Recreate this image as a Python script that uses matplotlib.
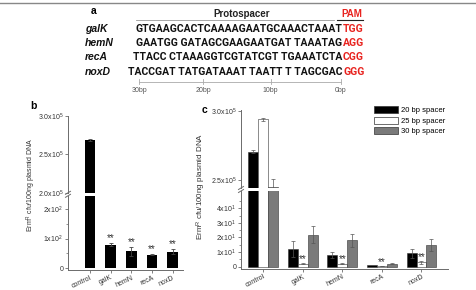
import matplotlib

matplotlib.use("Agg")

import matplotlib.pyplot as plt
from matplotlib.lines import Line2D
from matplotlib.patches import Patch

W, H = 476, 290

GENES = ["galK", "hemN", "recA", "noxD"]
SEQS = [
    "GTGAAGCACTCAAAAGAATGCAAACTAAAT",
    "GAATGG GATAGCGAAGAATGAT TAAATAG",
    "TTACC CTAAAGGTCGTATCGT TGAAATCTA",
    "TACCGAT TATGATAAAT TAATT T TAGCGAC",
]
PAMS = ["TGG", "AGG", "CGG", "GGG"]
RULER = ["30bp", "20bp", "10bp", "0bp"]

CATS = ["control", "galK", "hemN", "recA", "noxD"]
B_VALUES = [2.69e5, 79, 57, 46, 56]
B_ERRORS = [0.012e5, 5, 14, 2, 9]
B_STARS = [False, True, True, True, True]

SPACERS = ["20 bp spacer", "25 bp spacer", "30 bp spacer"]
C_VALUES = [
    [2.705e5, 12, 8, 1.0, 9],
    [2.94e5, 2, 2, 0.4, 3],
    [2.447e5, 22, 18, 2, 15],
]
C_ERRORS = [
    [0.01e5, 5.5, 2, 0.2, 3],
    [0.012e5, 0.4, 0.4, 0.1, 1],
    [0.058e5, 6, 4.5, 0.2, 4],
]
C_STARS = [False, True, True, True, True]

BAR_FILL = ["#000000", "#ffffff", "#7a7a7a"]
SPINE = "#6b6b6b"
TEXT = "#333333"

plt.rcParams["font.family"] = ["Liberation Sans", "DejaVu Sans"]
plt.rcParams["mathtext.default"] = "regular"


def fx(x):
    return x / W


def fy(y):
    return 1 - y / H


def box(x0, y_top, x1, y_bottom):
    return [fx(x0), fy(y_bottom), (x1 - x0) / W, (y_bottom - y_top) / H]


def style(ax, bottom=True):
    for side in ("top", "right"):
        ax.spines[side].set_visible(False)
    ax.spines["left"].set_color(SPINE)
    ax.spines["left"].set_linewidth(0.7)
    if bottom:
        ax.spines["bottom"].set_color(SPINE)
        ax.spines["bottom"].set_linewidth(0.7)
    else:
        ax.spines["bottom"].set_visible(False)
    ax.tick_params(colors=SPINE, labelcolor=TEXT, labelsize=5, width=0.6,
                   length=2, pad=1.5)
    ax.patch.set_alpha(0)


def sci(v, exp):
    return rf"{v}x10$^{{{exp}}}$"


def break_marks(fig, x, y):
    for dy in (-1.5, 1.5):
        fig.add_artist(Line2D([fx(x - 2.5), fx(x + 2.5)],
                              [fy(y + dy + 1.5), fy(y + dy - 1.5)],
                              color=SPINE, lw=0.7))


fig = plt.figure(figsize=(W / 100, H / 100), dpi=100)
fig.add_artist(Line2D([0, 1], [fy(2.5), fy(2.5)], color="#888888", lw=1))

# panel a
fig.text(fx(91), fy(11), "a", fontsize=7.5, fontweight="bold", ha="left", va="center")
fig.text(fx(242), fy(14), "Protospacer", fontsize=7, fontweight="bold",
         ha="center", va="center", color="#222222")
fig.add_artist(Line2D([fx(136), fx(334)], [fy(19.5), fy(19.5)], color="#999999", lw=0.6))
fig.text(fx(352), fy(14), "PAM", fontsize=7, fontweight="bold",
         ha="center", va="center", color="#e8231f")
fig.add_artist(Line2D([fx(337), fx(363)], [fy(20), fy(20)], color="#222222", lw=0.8))
for i, (gene, seq, pam) in enumerate(zip(GENES, SEQS, PAMS)):
    y = 29 + i * 14.2
    fig.text(fx(85), fy(y), gene, fontsize=7.5, fontweight="bold", style="italic",
             ha="left", va="center", color="#111111")
    fig.text(fx(342.5), fy(y), seq, fontsize=7.5, fontweight="bold",
             family="Roboto", ha="right", va="center", color="#111111")
    fig.text(fx(343), fy(y), pam, fontsize=7.5, fontweight="bold",
             family="Roboto", ha="left", va="center", color="#e8231f")
ruler_x = [139.3, 203.3, 270.7, 341]
fig.add_artist(Line2D([fx(ruler_x[0]), fx(ruler_x[-1])], [fy(81.5), fy(81.5)],
                      color="#aaaaaa", lw=0.6))
for x, lab in zip(ruler_x, RULER):
    fig.add_artist(Line2D([fx(x), fx(x)], [fy(78.5), fy(83.5)], color="#aaaaaa", lw=0.6))
    fig.text(fx(x), fy(90), lab, fontsize=5, ha="center", va="center", color="#555555")

# panel b
xb = list(range(len(CATS)))
bx_lo = fig.add_axes(box(68, 196, 183, 270))
bx_hi = fig.add_axes(box(68, 116, 183, 192.7))
for ax in (bx_lo, bx_hi):
    ax.bar(xb, B_VALUES, width=0.52, color="black", yerr=B_ERRORS,
           error_kw={"elinewidth": 0.6, "capsize": 1.5, "capthick": 0.6, "ecolor": "#444444"})
    ax.set_xlim(-1.07, 4.5)
bx_lo.set_ylim(-5.7, 243)
bx_hi.set_ylim(2.0e5, 3.0e5)
style(bx_lo)
style(bx_hi, bottom=False)
bx_lo.set_yticks([0, 100, 200], ["0", sci(1, 2), sci(2, 2)])
bx_lo.set_yticks([50, 150], minor=True)
bx_lo.tick_params(which="minor", length=1.2, width=0.5, colors=SPINE)
bx_hi.set_yticks([2.0e5, 2.5e5, 3.0e5], [sci("2.0", 5), sci("2.5", 5), sci("3.0", 5)])
bx_hi.set_xticks([])
bx_lo.set_xticks(xb, CATS, rotation=25, ha="right", rotation_mode="anchor")
bx_lo.tick_params(axis="x", labelsize=5, pad=1)
for x, v, e, s in zip(xb, B_VALUES, B_ERRORS, B_STARS):
    if s:
        bx_lo.annotate("**", (x, v + e), xytext=(0, 0), textcoords="offset points",
                       ha="center", va="bottom", fontsize=7, color=TEXT)
break_marks(fig, 68, 194.3)
fig.text(fx(30), fy(106), "b", fontsize=7.5, fontweight="bold", ha="left", va="center")
fig.text(fx(31), fy(185), r"Erm$^{R}$ cfu/100ng plasmid DNA", rotation=90,
         fontsize=5, ha="center", va="center", color=TEXT)

# panel c
width = 0.25
cx_lo = fig.add_axes(box(241, 191, 448, 269))
cx_hi = fig.add_axes(box(241, 110, 448, 188.3))
for ax in (cx_lo, cx_hi):
    for k in range(len(SPACERS)):
        xs = [i + (k - 1) * width for i in range(len(CATS))]
        ax.bar(xs, C_VALUES[k], width=width, color=BAR_FILL[k], edgecolor="#333333",
               linewidth=0.4, yerr=C_ERRORS[k], label=SPACERS[k],
               error_kw={"elinewidth": 0.5, "capsize": 1.5, "capthick": 0.5,
                         "ecolor": "#555555"})
    ax.set_xlim(-0.56, 4.67)
cx_lo.set_ylim(-1.7, 52)
cx_hi.set_ylim(2.44e5, 3.007e5)
style(cx_lo)
style(cx_hi, bottom=False)
cx_lo.set_yticks([0, 10, 20, 30, 40], ["0"] + [sci(n, 1) for n in (1, 2, 3, 4)])
cx_lo.set_yticks([5, 15, 25, 35, 45], minor=True)
cx_lo.tick_params(which="minor", length=1.2, width=0.5, colors=SPINE)
cx_hi.set_yticks([2.5e5, 3.0e5], [sci("2.5", 5), sci("3.0", 5)])
cx_hi.set_xticks([])
cx_lo.set_xticks(range(len(CATS)), CATS, rotation=27, ha="right", rotation_mode="anchor")
cx_lo.tick_params(axis="x", labelsize=5, pad=1)
for i, s in enumerate(C_STARS):
    if s:
        cx_lo.annotate("**", (i, C_VALUES[1][i] + C_ERRORS[1][i]), xytext=(0, -1),
                       textcoords="offset points", ha="center", va="bottom",
                       fontsize=7, color=TEXT)
break_marks(fig, 241, 189.5)
fig.text(fx(202), fy(110), "c", fontsize=7.5, fontweight="bold", ha="left", va="center")
fig.text(fx(201), fy(186), r"Erm$^{R}$ cfu/100ng plasmid DNA", rotation=90,
         fontsize=5.8, ha="center", va="center", color=TEXT)

handles = [Patch(facecolor=c, edgecolor="#333333", linewidth=0.5) for c in BAR_FILL]
fig.legend(handles, SPACERS, loc="upper left", bbox_to_anchor=(fx(374), fy(106)),
           frameon=False, fontsize=5.5, handlelength=3.2, handleheight=1.0,
           handletextpad=0.3, labelspacing=0.35, borderaxespad=0, borderpad=0)

fig.savefig("out.png", dpi=100)
